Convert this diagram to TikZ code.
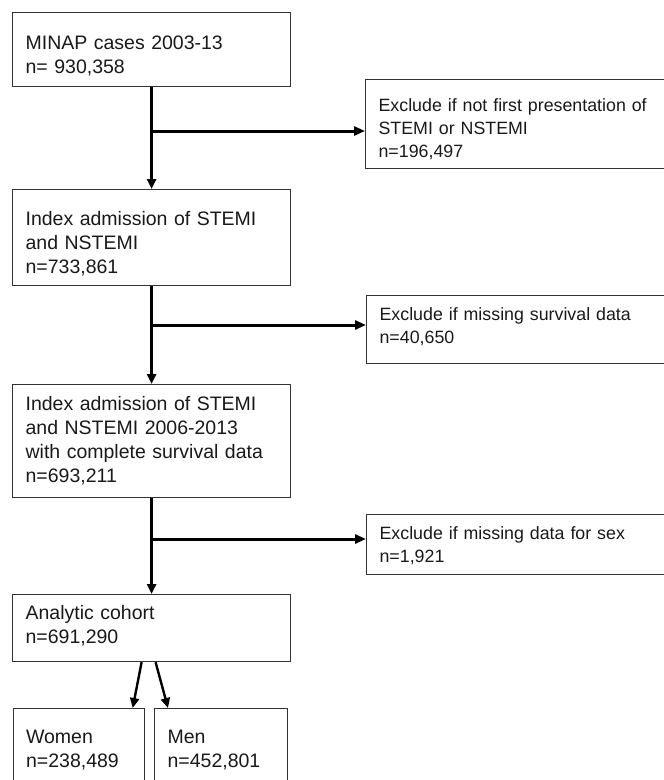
\documentclass[tikz,border=0pt]{standalone}
\usepackage{fontspec}
\setmainfont{Liberation Sans}
\usepackage{tikz}
\usetikzlibrary{arrows.meta}

\tikzset{
    stagebox/.style={draw=black!80, line width=1.2pt, anchor=north west, inner xsep=13pt, inner ysep=0pt, align=left, text=black!90, font=\fontsize{19.5}{24}\selectfont},
    exclbox/.style={stagebox, font=\fontsize{17.8}{23}\selectfont},
    mainarrow/.style={line width=3pt, -{Triangle[length=10pt, width=9pt]}},
    sidearrow/.style={line width=3pt, -{Triangle[length=11pt, width=9pt]}},
    splitarrow/.style={line width=2.4pt, -{Triangle[length=10pt, width=9pt]}}
}

\begin{document}
\begin{tikzpicture}[x=1pt, y=-1pt]
    \useasboundingbox (0,0) rectangle (664,780);
    \clip (0,0) rectangle (664,780);

    \node[stagebox, text width=252pt, text height=36.5pt, text depth=37.5pt] (minap) at (12,12) {MINAP cases 2003-13\\n= 930,358};
    \node[stagebox, text width=252pt, text height=36pt, text depth=60pt] (index) at (12,189) {Index admission of STEMI\\and NSTEMI\\n=733,861};
    \node[stagebox, text width=252pt, text height=26pt, text depth=87pt] (complete) at (12,384) {Index admission of STEMI\\and NSTEMI 2006-2013\\with complete survival data\\n=693,211};
    \node[stagebox, text width=252pt, text height=25pt, text depth=42pt] (cohort) at (12,594) {Analytic cohort\\n=691,290};
    \node[stagebox, text width=105pt, text height=35pt, text depth=80pt] (women) at (12.5,708) {Women\\n=238,489};
    \node[stagebox, text width=107pt, text height=35pt, text depth=80pt] (men) at (154,708) {Men\\n=452,801};

    \node[exclbox, text width=294pt, text height=32pt, text depth=57pt] (notfirst) at (365,79) {Exclude if not first presentation of\\STEMI or NSTEMI\\n=196,497};
    \node[exclbox, text width=294pt, text height=25pt, text depth=43pt] (survival) at (366,295) {Exclude if missing survival data\\n=40,650};
    \node[exclbox, text width=294pt, text height=25pt, text depth=35pt] (sex) at (366,514) {Exclude if missing data for sex\\n=1,921};

    \coordinate (split1) at (minap.south |- 0,131);
    \coordinate (split2) at (index.south |- 0,325);
    \coordinate (split3) at (complete.south |- 0,539);

    \draw[mainarrow] (minap.south) -- (index.north);
    \draw[mainarrow] (index.south) -- (complete.north);
    \draw[mainarrow] (complete.south) -- (cohort.north);

    \draw[sidearrow] (split1) -- (split1 -| notfirst.west);
    \draw[sidearrow] (split2) -- (split2 -| survival.west);
    \draw[sidearrow] (split3) -- (split3 -| sex.west);

    \draw[splitarrow] ([xshift=-10pt]cohort.south) -- ([xshift=-12pt]women.north east);
    \draw[splitarrow] ([xshift=4pt]cohort.south) -- ([xshift=14pt]men.north west);
\end{tikzpicture}
\end{document}
